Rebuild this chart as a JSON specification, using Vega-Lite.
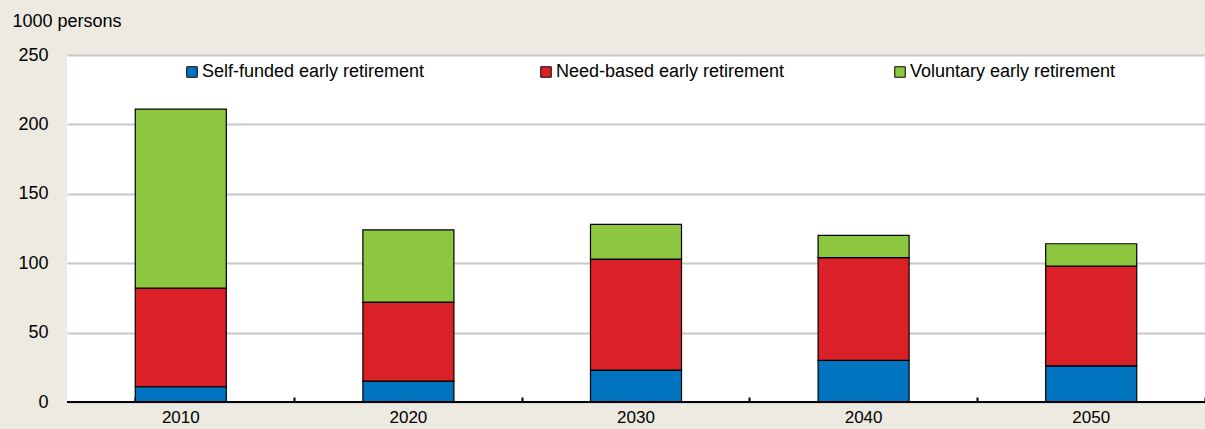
{
  "$schema": "https://vega.github.io/schema/vega-lite/v6.json",
  "autosize": {"type": "none"},
  "width": 1138,
  "height": 347,
  "padding": {"left": 67, "top": 55, "right": 0, "bottom": 27},
  "background": "#EDEBE1",
  "config": {
    "view": {"fill": "white", "stroke": null},
    "font": "Liberation Sans",
    "axis": {"labelFont": "Liberation Sans", "titleFont": "Liberation Sans"},
    "legend": {"labelFont": "Liberation Sans"}
  },
  "data": {
    "values": [
      {"year": "2010", "type": "Self-funded early retirement", "order": 1, "value": 11},
      {"year": "2010", "type": "Need-based early retirement", "order": 2, "value": 71},
      {"year": "2010", "type": "Voluntary early retirement", "order": 3, "value": 129},
      {"year": "2020", "type": "Self-funded early retirement", "order": 1, "value": 15},
      {"year": "2020", "type": "Need-based early retirement", "order": 2, "value": 57},
      {"year": "2020", "type": "Voluntary early retirement", "order": 3, "value": 52},
      {"year": "2030", "type": "Self-funded early retirement", "order": 1, "value": 23},
      {"year": "2030", "type": "Need-based early retirement", "order": 2, "value": 80},
      {"year": "2030", "type": "Voluntary early retirement", "order": 3, "value": 25},
      {"year": "2040", "type": "Self-funded early retirement", "order": 1, "value": 30},
      {"year": "2040", "type": "Need-based early retirement", "order": 2, "value": 74},
      {"year": "2040", "type": "Voluntary early retirement", "order": 3, "value": 16},
      {"year": "2050", "type": "Self-funded early retirement", "order": 1, "value": 26},
      {"year": "2050", "type": "Need-based early retirement", "order": 2, "value": 72},
      {"year": "2050", "type": "Voluntary early retirement", "order": 3, "value": 16}
    ]
  },
  "layer": [
    {
      "mark": {"type": "bar", "stroke": "black", "strokeWidth": 1.2},
      "encoding": {
        "x": {
          "field": "year", "type": "nominal",
          "scale": {"paddingInner": 0.6, "paddingOuter": 0.3},
          "axis": {
            "title": null, "labelAngle": 0, "labelFontSize": 17, "labelColor": "#000",
            "offset": -5, "labelPadding": 7, "bandPosition": 1.75, "tickExtra": true,
            "tickSize": 5, "tickWidth": 2, "tickColor": "#000", "domain": false, "grid": false
          }
        },
        "y": {
          "field": "value", "type": "quantitative", "stack": "zero",
          "scale": {"domain": [0, 250], "nice": false},
          "axis": {
            "values": [0, 50, 100, 150, 200, 250],
            "title": "1000 persons", "titleAngle": 0, "titleAlign": "left",
            "titleBaseline": "alphabetic", "titleX": -55, "titleY": -29,
            "titleFontSize": 18, "titleFontWeight": "normal", "titleColor": "#000",
            "labelFontSize": 18, "labelColor": "#000", "labelPadding": 19,
            "ticks": false, "domain": false,
            "gridColor": "#C8C8C8", "gridWidth": 2
          }
        },
        "color": {
          "field": "type", "type": "nominal",
          "sort": ["Self-funded early retirement", "Need-based early retirement", "Voluntary early retirement"],
          "scale": {
            "domain": ["Self-funded early retirement", "Need-based early retirement", "Voluntary early retirement"],
            "range": ["#0074BE", "#DA2128", "#8DC63F"]
          },
          "legend": {
            "title": null, "orient": "none", "legendX": 116, "legendY": 8,
            "direction": "horizontal", "columns": 3, "gridAlign": "all", "columnPadding": 106,
            "symbolType": "square", "symbolSize": 110, "symbolStrokeColor": "black", "symbolStrokeWidth": 1,
            "symbolOpacity": 1, "labelFontSize": 18, "labelColor": "#000", "labelOffset": 1, "labelLimit": 400
          }
        },
        "order": {"field": "order", "type": "quantitative"}
      }
    },
    {
      "mark": {"type": "rule", "color": "black", "strokeWidth": 2},
      "encoding": {"y": {"datum": 0, "type": "quantitative", "scale": {"domain": [0, 250], "nice": false}}}
    }
  ]
}
